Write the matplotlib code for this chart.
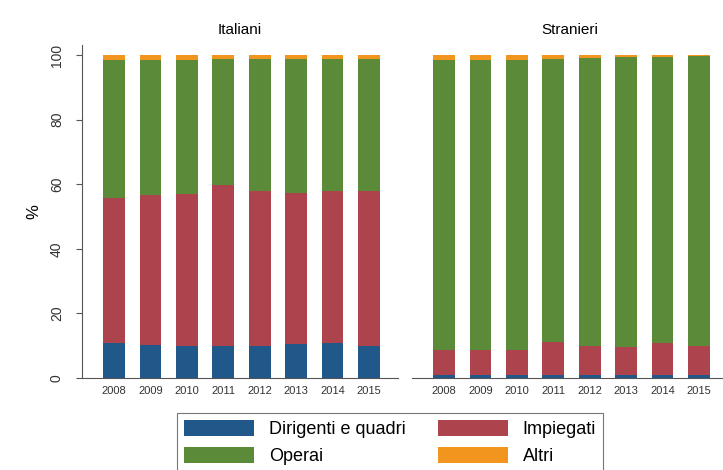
import numpy as np
import matplotlib
matplotlib.use("Agg")
import matplotlib.pyplot as plt

plt.rcParams['font.family'] = ['Liberation Sans', 'DejaVu Sans']

# data (percent shares)
years = ['2008', '2009', '2010', '2011', '2012', '2013', '2014', '2015']
categories = ['Dirigenti e quadri', 'Impiegati', 'Operai', 'Altri']

# Italiani
ita_dirigenti = [10.9, 10.2, 9.9, 9.9, 9.9, 10.4, 10.8, 9.9]
ita_impiegati = [44.7, 46.4, 47.2, 49.8, 48.1, 47.0, 47.1, 48.1]
ita_operai = [42.8, 41.9, 41.4, 39.1, 40.8, 41.4, 41.0, 40.8]
ita_altri = [1.6, 1.5, 1.5, 1.2, 1.2, 1.2, 1.1, 1.2]

# Stranieri
str_dirigenti = [1.0, 1.0, 1.0, 1.0, 0.9, 0.9, 1.0, 1.0]
str_impiegati = [7.7, 7.6, 7.6, 10.2, 9.1, 8.7, 9.8, 9.0]
str_operai = [89.7, 89.9, 89.9, 87.6, 89.0, 89.7, 88.7, 89.6]
str_altri = [1.6, 1.5, 1.5, 1.2, 1.0, 0.7, 0.5, 0.4]

colors = ['#21588a', '#ad444d', '#5b8a39', '#f2951f']

fig = plt.figure(figsize=(7.23, 4.70), dpi=100)
ax1 = fig.add_axes([82/723, 1-378/470, 316/723, 333/470])
ax2 = fig.add_axes([412/723, 1-378/470, 316/723, 333/470])

x = np.arange(len(years))
panels = [
    (ax1, 'Italiani', [ita_dirigenti, ita_impiegati, ita_operai, ita_altri]),
    (ax2, 'Stranieri', [str_dirigenti, str_impiegati, str_operai, str_altri]),
]

for ax, title, series in panels:
    bottom = np.zeros(len(years))
    for vals, col, lab in zip(series, colors, categories):
        ax.bar(x, vals, width=0.6, bottom=bottom, color=col, label=lab,
               linewidth=0)
        bottom += np.array(vals)
    ax.set_xlim(-0.88, 7.8)
    ax.set_ylim(0, 103.1)
    ax.set_xticks(x)
    ax.set_xticklabels(years, fontsize=8, color='#333333')
    ax.tick_params(axis='x', length=0, pad=6)
    ax.set_title(title, fontsize=11, pad=8)
    for s in ['top', 'right']:
        ax.spines[s].set_visible(False)
    ax.spines['bottom'].set_color('#555555')
    ax.spines['left'].set_color('#555555')

ax1.set_yticks([0, 20, 40, 60, 80, 100])
ax1.set_yticklabels(['0', '20', '40', '60', '80', '100'], rotation=90,
                    va='center', fontsize=10, color='#333333')
ax1.tick_params(axis='y', length=4, color='#555555', pad=9)
ax1.set_ylabel('%', fontsize=12, labelpad=6)

ax2.spines['left'].set_visible(False)
ax2.set_yticks([])

handles, labels = ax1.get_legend_handles_labels()
order = [0, 2, 1, 3]
leg = fig.legend([handles[i] for i in order], [labels[i] for i in order],
                 ncol=2, loc='upper center', bbox_to_anchor=(390/723, 1-413/470),
                 fontsize=13, handlelength=3.9, handleheight=1.0,
                 handletextpad=0.8, columnspacing=1.8, labelspacing=0.45,
                 frameon=True, fancybox=False, borderpad=0.4, borderaxespad=0)
leg.get_frame().set_edgecolor('#555555')
leg.get_frame().set_linewidth(0.8)

fig.savefig('out.png', dpi=100)
